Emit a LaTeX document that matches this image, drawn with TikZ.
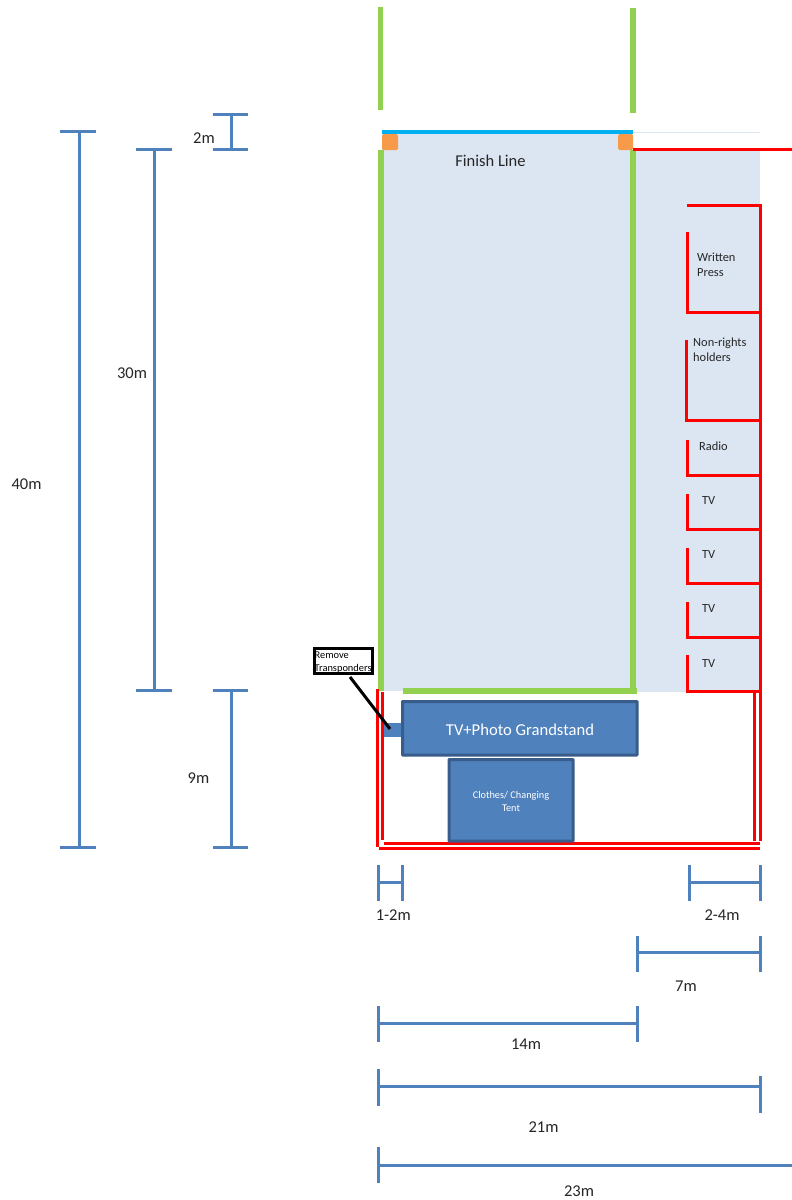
\documentclass[tikz,border=0pt]{standalone}
\usepackage{fontspec}
\setmainfont{Carlito}
\definecolor{dimblue}{HTML}{4F81BD}
\definecolor{boxedge}{HTML}{385D8A}
\definecolor{pale}{HTML}{DCE6F2}
\definecolor{grass}{HTML}{92D050}
\definecolor{sky}{HTML}{00B0F0}
\definecolor{cone}{HTML}{F79A4A}
\definecolor{redline}{HTML}{FF0000}
\tikzset{
  dimline/.style={draw=dimblue,line width=3pt},
  greenline/.style={draw=grass,line width=5.5pt},
  redwall/.style={draw=redline,line width=3pt},
  redthin/.style={draw=redline,line width=3pt},
  conebox/.style={fill=cone,rounded corners=1.5pt},
  bluebox/.style={fill=dimblue,draw=boxedge,line width=3pt,rounded corners=0.5pt},
  lab/.style={inner sep=0pt,text=black!85,font=\fontsize{16.5}{16.5}\selectfont},
  small/.style={inner sep=0pt,text=black!85,align=left,font=\fontsize{12.4}{15}\selectfont},
}
\begin{document}
\begin{tikzpicture}[x=1pt,y=-1pt]
\useasboundingbox[fill=white] (0,0) rectangle (792,1200);
% ground
\fill[pale] (382,132) rectangle (633,691);
\fill[pale] (633,150) rectangle (760,692);
\draw[pale,line width=1pt] (633,132.5) -- (760,132.5);
% track lines
\draw[greenline] (380.5,7) -- (380.5,110);
\draw[greenline] (633,8) -- (633,113);
\draw[greenline,line width=6pt] (380.5,150) -- (380.5,691);
\draw[greenline,line width=6pt] (633,150) -- (633,692);
\draw[greenline] (403,691) -- (637,691);
\draw[draw=sky,line width=4.5pt] (382,132) -- (633,132);
\fill[conebox] (382,134) rectangle (398,150);
\fill[conebox] (618,134) rectangle (633,150);
% red fences
\draw[redwall] (633,149) -- (792,149);
\draw[redwall] (687,205) -- (760,205) -- (760,841);
\draw[redwall] (687,232) -- (687,312) -- (760,312);
\draw[redwall] (686,340) -- (686,420.5) -- (760,420.5);
\draw[redwall] (687,440) -- (687,475) -- (760,475);
\draw[redwall] (687,494) -- (687,529) -- (760,529);
\draw[redwall] (687,548) -- (687,583) -- (760,583);
\draw[redwall] (687,602) -- (687,637) -- (760,637);
\draw[redwall] (687,655) -- (687,691.5) -- (760,691.5);
\draw[redthin] (377,689) -- (377,847);
\draw[redthin] (382,692) -- (382,840);
\draw[redthin] (754,693) -- (754,841);
\draw[redthin] (384,843) -- (760,843);
\draw[redthin] (379,848.5) -- (760,848.5);
% structures
\fill[dimblue] (384,723) rectangle (402,737);
\draw[bluebox] (402.5,701.5) rectangle (637,755);
\draw[bluebox] (449,759.5) rectangle (573,841);
\node[inner sep=0pt,text=white,font=\fontsize{16.6}{17}\selectfont] (stand) at (520,729.5) {TV+Photo Grandstand};
\node[inner sep=0pt,text=white,align=center,font=\fontsize{10.3}{13}\selectfont] (tent) at (511,801.5) {Clothes/ Changing\\Tent};
% callout
\node[draw=black,line width=3pt,fill=white,minimum width=58pt,minimum height=25pt,inner sep=0pt] (callout) at (343.5,661) {};
\node[anchor=west,inner sep=0pt,align=left,font=\fontsize{10.4}{13}\selectfont] (calltext) at (314.5,662.5) {Remove\\Transponders};
\coordinate (calltip) at (390,729);
\draw[black,line width=3pt] (350,677) -- (calltip);
% labels
\node[lab] (finish) at (490.5,160.5) {Finish Line};
\node[small,anchor=north west] (written) at (697,253) {Written\\Press};
\node[small,anchor=north west] (nonrights) at (693,338) {Non-rights\\holders};
\node[small,anchor=west] (radio) at (699,446) {Radio};
\node[small,anchor=west] (tv1) at (702,501) {TV};
\node[small,anchor=west] (tv2) at (702,555) {TV};
\node[small,anchor=west] (tv3) at (702,609) {TV};
\node[small,anchor=west] (tv4) at (702,663.5) {TV};
% vertical dimensions
\draw[dimline] (60,131) -- (96,131) (79,131) -- (79,847) (60,847) -- (96,847);
\draw[dimline] (136,149.5) -- (172,149.5) (154,149.5) -- (154,690) (136,690) -- (172,690);
\draw[dimline] (213,114) -- (248,114) (231,114) -- (231,149.5) (213,149.5) -- (248,149.5);
\draw[dimline] (213,690) -- (248,690) (231,690) -- (231,847) (213,847) -- (248,847);
% horizontal dimensions
\draw[dimline] (378.5,865) -- (378.5,901) (378.5,882.3) -- (402.3,882.3) (402.3,865) -- (402.3,901);
\draw[dimline] (689.7,865) -- (689.7,901) (689.7,882.3) -- (760,882.3) (760,865) -- (760,901);
\draw[dimline] (637,935.5) -- (637,971.5) (637,952) -- (760,952) (760,935.5) -- (760,971.5);
\draw[dimline] (378.5,1006) -- (378.5,1042) (378.5,1023.7) -- (637,1023.7) (637,1006) -- (637,1042);
\draw[dimline] (378.5,1069) -- (378.5,1105.5) (378.5,1086) -- (760,1086) (760,1076) -- (760,1113);
\draw[dimline] (378.5,1147) -- (378.5,1183) (378.5,1165.7) -- (792,1165.7);
% dimension labels
\node[lab] (d40) at (26.5,484.5) {40m};
\node[lab] (d30) at (132,373) {30m};
\node[lab] (d2) at (204,138.5) {2m};
\node[lab] (d9) at (198.5,778.5) {9m};
\node[lab] (d12) at (393.3,915.5) {1-2m};
\node[lab] (d24) at (722,915.5) {2-4m};
\node[lab] (d7) at (686,986) {7m};
\node[lab] (d14) at (526,1044.5) {14m};
\node[lab] (d21) at (543.5,1127) {21m};
\node[lab] (d23) at (579,1191) {23m};
\end{tikzpicture}
\end{document}
